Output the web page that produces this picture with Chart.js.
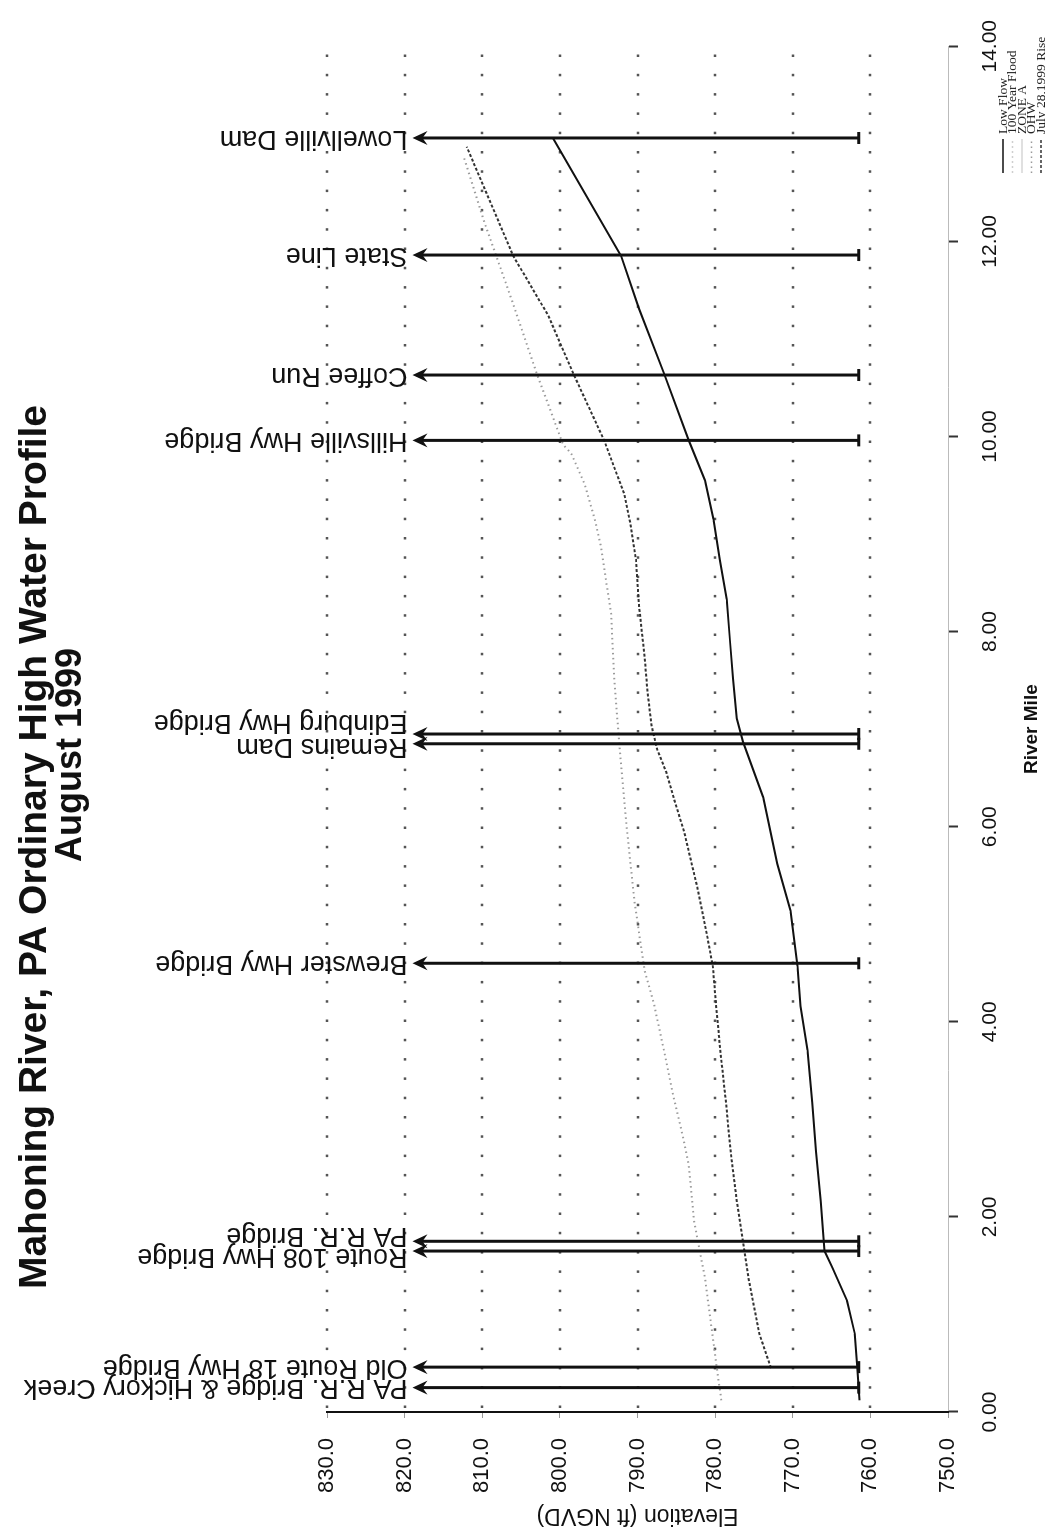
<!DOCTYPE html>
<html>
<head>
<meta charset="utf-8">
<title>Mahoning River, PA Ordinary High Water Profile</title>
<script src="https://cdn.jsdelivr.net/npm/chart.js"></script>
<style>
  html, body { margin: 0; padding: 0; width: 1045px; height: 1539px; overflow: hidden; background: #fff; }
  /* the chart is drawn landscape and turned a quarter turn, like the scanned page */
  #wrap {
    position: absolute; left: 0; top: 0;
    width: 1539px; height: 1045px;
    transform-origin: 0 0;
    transform: translateY(1539px) rotate(-90deg);
  }
</style>
</head>
<body>
<div id="wrap"><canvas id="profile" width="1539" height="1045"></canvas></div>
<script>
// River mile / elevation (ft NGVD)
const lowFlowMiles = [0.12, 0.46, 0.80, 1.14, 1.48, 1.65, 2.16, 2.67, 3.17, 3.71, 4.16, 4.57, 5.14, 5.62, 6.30, 6.87, 7.11, 7.52, 7.92, 8.33, 8.74, 9.15, 9.55, 9.96, 10.65, 11.31, 11.85, 13.06];
const lowFlowElev  = [761.4, 761.7, 762.0, 763.0, 764.9, 765.9, 766.4, 767.0, 767.5, 768.1, 769.0, 769.4, 770.3, 772.0, 773.8, 776.4, 777.2, 777.7, 778.1, 778.5, 779.4, 780.2, 781.3, 783.4, 786.6, 789.8, 792.1, 800.9];

const ohwMiles = [0.12, 0.46, 1.37, 1.95, 2.53, 2.84, 3.28, 3.71, 4.19, 4.53, 5.24, 6.00, 6.80, 7.52, 8.19, 8.49, 8.87, 9.15, 9.51, 9.82, 9.92, 10.65, 11.40, 12.19, 12.87];
const ohwElev  = [779.2, 779.8, 781.3, 782.7, 783.4, 784.2, 785.5, 786.6, 787.9, 789.1, 790.4, 791.4, 792.3, 793.0, 793.4, 794.0, 794.7, 795.5, 796.8, 798.5, 799.6, 803.0, 806.2, 809.7, 812.4];

const riseMiles = [0.45, 0.80, 1.37, 2.16, 2.67, 3.17, 3.68, 4.19, 4.57, 4.87, 5.38, 5.95, 6.26, 6.56, 6.80, 7.04, 7.38, 7.75, 8.26, 8.74, 9.10, 9.41, 9.96, 10.65, 11.24, 11.85, 12.97];
const riseElev  = [772.8, 774.3, 775.7, 777.2, 778.0, 778.6, 779.3, 779.9, 780.3, 781.0, 782.3, 784.0, 785.2, 786.3, 787.5, 788.2, 788.7, 789.1, 789.8, 790.2, 790.9, 791.7, 794.3, 798.3, 801.5, 806.0, 812.0];

// bridges, dams etc. marked with arrows
const landmarkNames = ['PA R.R. Bridge & Hickory Creek', 'Old Route 18 Hwy Bridge', 'Route 108 Hwy Bridge', 'PA R.R. Bridge',
  'Brewster Hwy Bridge', 'Remains Dam', 'Edinburg Hwy Bridge', 'Hillsville Hwy Bridge', 'Coffee Run', 'State Line', 'Lowellville Dam'];
const landmarkMiles = [0.25, 0.46, 1.65, 1.75, 4.60, 6.85, 6.95, 9.96, 10.63, 11.86, 13.06];
const landmarkBase = 761.5;
const landmarkTip = 819.0;

const seriesNames = ['Low Flow', '100 Year Flood', 'ZONE A', 'OHW', 'July 28,1999 Rise'];

const titleLines = ['Mahoning River, PA Ordinary High Water Profile', 'August 1999'];

const toPoints = (xs, ys) => xs.map((m, i) => ({ x: m, y: ys[i] }));

// small sideways nudges so paired labels don't sit on each other
const labelNudge = [0, 0, -5, 6, 0, -3, 12, 0, 0, 0, 0];

const dottedGrid = {
    id: 'dottedGrid',
    beforeDatasetsDraw(chart) {
        const { ctx, chartArea: a, scales: { y } } = chart;
        ctx.save();
        ctx.strokeStyle = '#555';
        ctx.lineWidth = 2.5;
        ctx.setLineDash([2.5, 16.8]);
        y.ticks.forEach(t => {
            if (t.value === y.min) return;
            const py = Math.round(y.getPixelForValue(t.value));
            ctx.beginPath();
            ctx.moveTo(a.left + 4, py);
            ctx.lineTo(a.right, py);
            ctx.stroke();
        });
        ctx.restore();
    }
};

const landmarkArrows = {
    id: 'landmarkArrows',
    afterDatasetsDraw(chart) {
        const { ctx, scales: { x, y } } = chart;
        const yb = y.getPixelForValue(landmarkBase);
        const yt = y.getPixelForValue(landmarkTip);
        ctx.save();
        ctx.strokeStyle = '#111';
        ctx.fillStyle = '#111';
        landmarkMiles.forEach((m, i) => {
            const px = x.getPixelForValue(m);
            ctx.lineWidth = 3;
            ctx.beginPath();
            ctx.moveTo(px, yb);
            ctx.lineTo(px, yt + 6);
            ctx.moveTo(px - 6, yb);
            ctx.lineTo(px + 6, yb);
            ctx.stroke();
            // arrow head
            ctx.beginPath();
            ctx.moveTo(px, yt);
            ctx.lineTo(px - 7, yt + 15);
            ctx.lineTo(px, yt + 10);
            ctx.lineTo(px + 7, yt + 15);
            ctx.closePath();
            ctx.fill();
            // label, reading upward from the tip
            ctx.save();
            ctx.translate(px + labelNudge[i], yt - 5);
            ctx.rotate(-Math.PI / 2);
            ctx.font = '27px "Liberation Sans", Arial, sans-serif';
            ctx.textAlign = 'left';
            ctx.textBaseline = 'middle';
            ctx.fillText(landmarkNames[i], 0, 0);
            ctx.restore();
        });
        ctx.restore();
    }
};

const pageText = {
    id: 'pageText',
    afterDraw(chart) {
        const { ctx } = chart;
        ctx.save();
        // title, two lines
        ctx.fillStyle = '#111';
        ctx.textAlign = 'center';
        ctx.textBaseline = 'middle';
        ctx.font = 'bold 39px "Liberation Sans", Arial, sans-serif';
        ctx.fillText(titleLines[0], 692, 35);
        ctx.font = 'bold 36px "Liberation Sans", Arial, sans-serif';
        ctx.fillText(titleLines[1], 784, 71);

        // legend in the bottom right corner
        ctx.font = '13.5px "Liberation Serif", "Times New Roman", serif';
        ctx.textAlign = 'left';
        chart.data.datasets.forEach((ds, i) => {
            const ly = 1003 + i * 9.5;
            ctx.strokeStyle = ds.borderColor;
            ctx.lineWidth = 1.5;
            ctx.setLineDash(ds.borderDash || []);
            ctx.beginPath();
            ctx.moveTo(1366, ly);
            ctx.lineTo(1400, ly);
            ctx.stroke();
            ctx.setLineDash([]);
            ctx.fillStyle = '#222';
            ctx.fillText(ds.label, 1405, ly);
        });
        ctx.restore();
    }
};

new Chart(document.getElementById('profile'), {
    type: 'line',
    data: {
        datasets: [
            {
                label: seriesNames[0],
                data: toPoints(lowFlowMiles, lowFlowElev),
                borderColor: '#111',
                borderWidth: 2
            },
            {
                label: seriesNames[1],
                data: [],
                borderColor: '#cfcfcf',
                borderWidth: 1,
                borderDash: [2, 3]
            },
            {
                label: seriesNames[2],
                data: [],
                borderColor: '#d6d6d6',
                borderWidth: 1
            },
            {
                label: seriesNames[3],
                data: toPoints(ohwMiles, ohwElev),
                borderColor: '#9a9a9a',
                borderWidth: 2,
                borderDash: [1.5, 3.5]
            },
            {
                label: seriesNames[4],
                data: toPoints(riseMiles, riseElev),
                borderColor: '#333',
                borderWidth: 2,
                borderDash: [3, 2]
            }
        ]
    },
    options: {
        responsive: false,
        animation: false,
        devicePixelRatio: 1,
        layout: { padding: { left: 0, top: 327, right: 36, bottom: 0 } },
        elements: {
            point: { radius: 0 },
            line: { tension: 0, fill: false }
        },
        plugins: {
            legend: { display: false },
            title: { display: false },
            tooltip: { enabled: false }
        },
        scales: {
            x: {
                type: 'linear',
                min: 0,
                max: 14,
                afterFit: s => { s.height = 97; },
                ticks: {
                    stepSize: 2,
                    maxRotation: 0,
                    padding: 20,
                    color: '#111',
                    font: { family: 'Liberation Sans', size: 21 },
                    callback: v => v.toFixed(2)
                },
                grid: {
                    display: true,
                    drawOnChartArea: false,
                    drawTicks: true,
                    tickLength: 10,
                    tickColor: '#333',
                    tickWidth: 2
                },
                border: { display: true, color: '#bbb', width: 1 },
                title: {
                    display: true,
                    text: 'River Mile',
                    color: '#111',
                    font: { family: 'Liberation Sans', size: 19, weight: 'bold' },
                    padding: { top: 2, bottom: 2 }
                }
            },
            y: {
                min: 750,
                max: 830,
                afterFit: s => { s.width = 127; },
                ticks: {
                    stepSize: 10,
                    padding: 20,
                    color: '#111',
                    font: { family: 'Liberation Sans', size: 22 },
                    callback: v => v.toFixed(1)
                },
                grid: {
                    display: true,
                    drawOnChartArea: false,
                    tickLength: 6,
                    tickColor: '#999'
                },
                border: { display: true, color: '#111', width: 2 },
                title: {
                    display: true,
                    text: 'Elevation (ft NGVD)',
                    color: '#111',
                    font: { family: 'Liberation Sans', size: 23 },
                    padding: { top: 10, bottom: 0 }
                }
            }
        }
    },
    plugins: [dottedGrid, landmarkArrows, pageText]
});
</script>
</body>
</html>
